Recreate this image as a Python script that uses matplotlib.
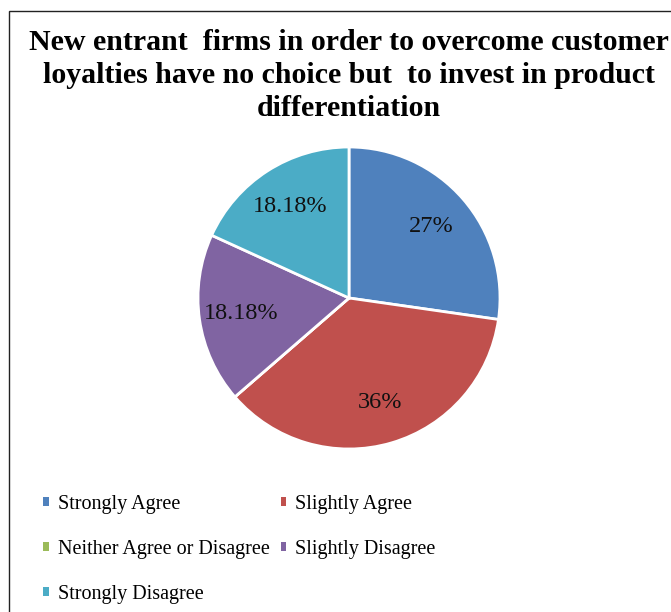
import matplotlib
matplotlib.use("Agg")
import matplotlib.pyplot as plt
from matplotlib.patches import Rectangle

categories = ["Strongly Agree", "Slightly Agree", "Neither Agree or Disagree",
              "Slightly Disagree", "Strongly Disagree"]
values = [27.27, 36.36, 0.0, 18.18, 18.18]
value_labels = ["27%", "36%", "", "18.18%", "18.18%"]
colors = ["#4F81BD", "#C0504D", "#9BBB59", "#8064A2", "#4BACC6"]

title = ("New entrant  firms in order to overcome customer\n"
         "loyalties have no choice but  to invest in product\n"
         "differentiation")

plt.rcParams["font.family"] = ["Liberation Serif", "DejaVu Serif"]

W, H = 671, 612
fig = plt.figure(figsize=(W / 100, H / 100), dpi=100)

# outer chart border (right and bottom edges fall outside the crop)
fig.patches.append(Rectangle((9 / W, -0.1), 1.2, 1 - 11 / H + 0.1,
                             transform=fig.transFigure, fill=False,
                             edgecolor="#222222", linewidth=1.0))

fig.text(349 / W, 1 - 29 / H, title, ha="center", va="top",
         fontsize=21.5, fontweight="bold", linespacing=1.29)

cx, cy, r = 349, 298, 151
ax = fig.add_axes([(cx - r) / W, (H - cy - r) / H, 2 * r / W, 2 * r / H])
wedges, texts = ax.pie(values, labels=value_labels, colors=colors,
                       startangle=90, counterclock=False, labeldistance=0.72,
                       wedgeprops=dict(edgecolor="white", linewidth=2))
for t in texts:
    t.set_fontsize(17.5)
    t.set_color("#111111")
    t.set_horizontalalignment("center")
ax.set_xlim(-1, 1)
ax.set_ylim(-1, 1)

# legend filled row by row, like the original; plain squares as keys
order = [0, 2, 4, 1, 3]
keys = [Rectangle((0, 0), 1, 1, facecolor=colors[i], edgecolor="none")
        for i in order]
fig.legend(keys, [categories[i] for i in order],
           loc="upper left", bbox_to_anchor=(43 / W, 1 - 495 / H), ncol=2,
           frameon=False, borderpad=0, borderaxespad=0, fontsize=14.5,
           handlelength=0.28, handleheight=0.28, handletextpad=0.45,
           columnspacing=0.55, labelspacing=1.28)

fig.savefig("out.png", dpi=100)
